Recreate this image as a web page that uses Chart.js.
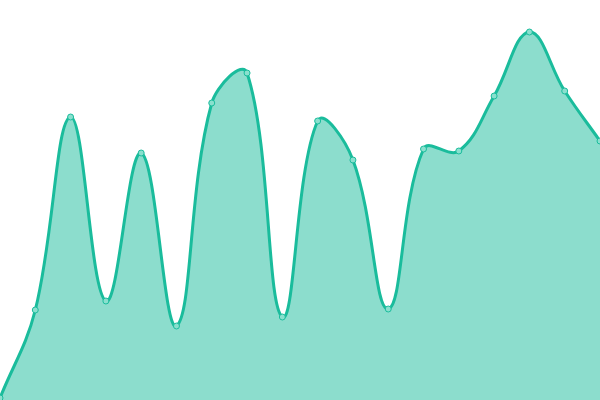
<!DOCTYPE html>
<html>
<head>
<meta charset="utf-8">
<script src="https://cdn.jsdelivr.net/npm/chart.js@4"></script>
<style>
html, body { margin: 0; padding: 0; background: #fff; }
#wrap { width: 600px; height: 400px; }
</style>
</head>
<body>
<div id="wrap"><canvas id="myChart"></canvas></div>
<script>
// values (0 = bottom, 400 = top)
const labels = ["1","2","3","4","5","6","7","8","9","10","11","12","13","14","15","16","17","18"];
const values = [2, 90, 283, 99, 247, 74, 297, 327, 83, 279, 240, 91, 251, 249, 304, 368, 309, 259];
const yMin = 0;
const yMax = 400;

const ctx = document.getElementById("myChart").getContext("2d");
window.myChart = new Chart(ctx, {
    type: 'line',
    data: {
        labels: labels,
        datasets: [{
            data: values,
            borderColor: '#1abc9c',
            backgroundColor: 'rgba(26, 188, 156, 0.5)',
            borderWidth: 3,
            fill: true,
            tension: 0.4,
            pointRadius: 3,
            pointBorderWidth: 1,
            pointBackgroundColor: '#8ae0ce',
            pointBorderColor: '#1abc9c'
        }]
    },
    options: {
        responsive: true,
        maintainAspectRatio: false,
        animation: false,
        layout: { padding: 0, autoPadding: false },
        plugins: { legend: { display: false }, tooltip: { enabled: false } },
        scales: {
            x: { display: false, offset: false },
            y: { display: false, min: yMin, max: yMax }
        }
    }
});
</script>
</body>
</html>
